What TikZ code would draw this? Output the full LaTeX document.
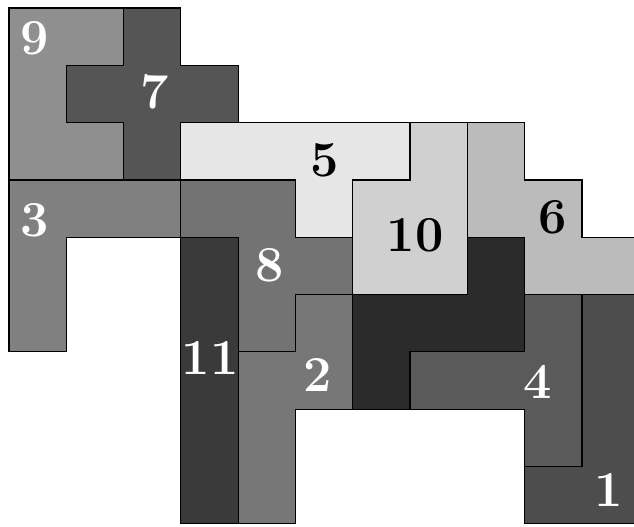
\documentclass[tikz,border=0pt]{standalone}
\begin{document}
\begin{tikzpicture}[x=1cm,y=-1cm,
  piece/.style={draw=black,line width=0.6pt,line join=miter},
  wlab/.style={text=white,font=\bfseries\fontsize{25}{30}\selectfont,inner sep=0pt},
  blab/.style={text=black,font=\bfseries\fontsize{25}{30}\selectfont,inner sep=0pt}]
\definecolor{c9}{HTML}{8F8F8F}
\definecolor{c7}{HTML}{555555}
\definecolor{c3}{HTML}{808080}
\definecolor{c5}{HTML}{E6E6E6}
\definecolor{c10}{HTML}{D0D0D0}
\definecolor{c6}{HTML}{BBBBBB}
\definecolor{c8}{HTML}{737373}
\definecolor{c11}{HTML}{3A3A3A}
\definecolor{c2}{HTML}{777777}
\definecolor{cd}{HTML}{2B2B2B}
\definecolor{c4}{HTML}{5A5A5A}
\definecolor{c1}{HTML}{4D4D4D}
\useasboundingbox (-0.157,-0.140) rectangle (10.908,9.057);
\clip (-0.157,-0.140) rectangle (10.908,9.057);
% 9
\filldraw[piece,fill=c9] (0,0)--(2,0)--(2,1)--(1,1)--(1,2)--(2,2)--(2,3)--(0,3)--cycle;
% 7
\filldraw[piece,fill=c7] (2,0)--(3,0)--(3,1)--(4,1)--(4,2)--(3,2)--(3,3)--(2,3)--(2,2)--(1,2)--(1,1)--(2,1)--cycle;
% 3
\filldraw[piece,fill=c3] (0,3)--(3,3)--(3,4)--(1,4)--(1,6)--(0,6)--cycle;
% 5
\filldraw[piece,fill=c5] (3,2)--(7,2)--(7,3)--(6,3)--(6,4)--(5,4)--(5,3)--(3,3)--cycle;
% 10
\filldraw[piece,fill=c10] (7,2)--(8,2)--(8,5)--(6,5)--(6,3)--(7,3)--cycle;
% 6
\filldraw[piece,fill=c6] (8,2)--(9,2)--(9,3)--(10,3)--(10,4)--(11,4)--(11,5)--(9,5)--(9,4)--(8,4)--cycle;
% 8
\filldraw[piece,fill=c8] (3,3)--(5,3)--(5,4)--(6,4)--(6,5)--(5,5)--(5,6)--(4,6)--(4,4)--(3,4)--cycle;
% 11
\filldraw[piece,fill=c11] (3,4)--(4,4)--(4,9)--(3,9)--cycle;
% 2
\filldraw[piece,fill=c2] (5,5)--(6,5)--(6,7)--(5,7)--(5,9)--(4,9)--(4,6)--(5,6)--cycle;
% dark unlabeled
\filldraw[piece,fill=cd] (8,4)--(9,4)--(9,6)--(7,6)--(7,7)--(6,7)--(6,5)--(8,5)--cycle;
% 4
\filldraw[piece,fill=c4] (9,5)--(10,5)--(10,8)--(9,8)--(9,7)--(7,7)--(7,6)--(9,6)--cycle;
% 1
\filldraw[piece,fill=c1] (10,5)--(11,5)--(11,9)--(9,9)--(9,8)--(10,8)--cycle;
% labels
\node[wlab] (l9) at (0.454,0.524) {9};
\node[wlab] (l7) at (2.548,1.466) {7};
\node[blab] (l5) at (5.515,2.653) {5};
\node[blab] (l10) at (7.086,3.962) {10};
\node[blab] (l6) at (9.494,3.649) {6};
\node[wlab] (l3) at (0.454,3.700) {3};
\node[wlab] (l8) at (4.555,4.485) {8};
\node[wlab] (l11) at (3.508,6.108) {11};
\node[wlab] (l2) at (5.393,6.405) {2};
\node[wlab] (l4) at (9.232,6.527) {4};
\node[wlab] (l1) at (10.471,8.412) {1};
\end{tikzpicture}
\end{document}
